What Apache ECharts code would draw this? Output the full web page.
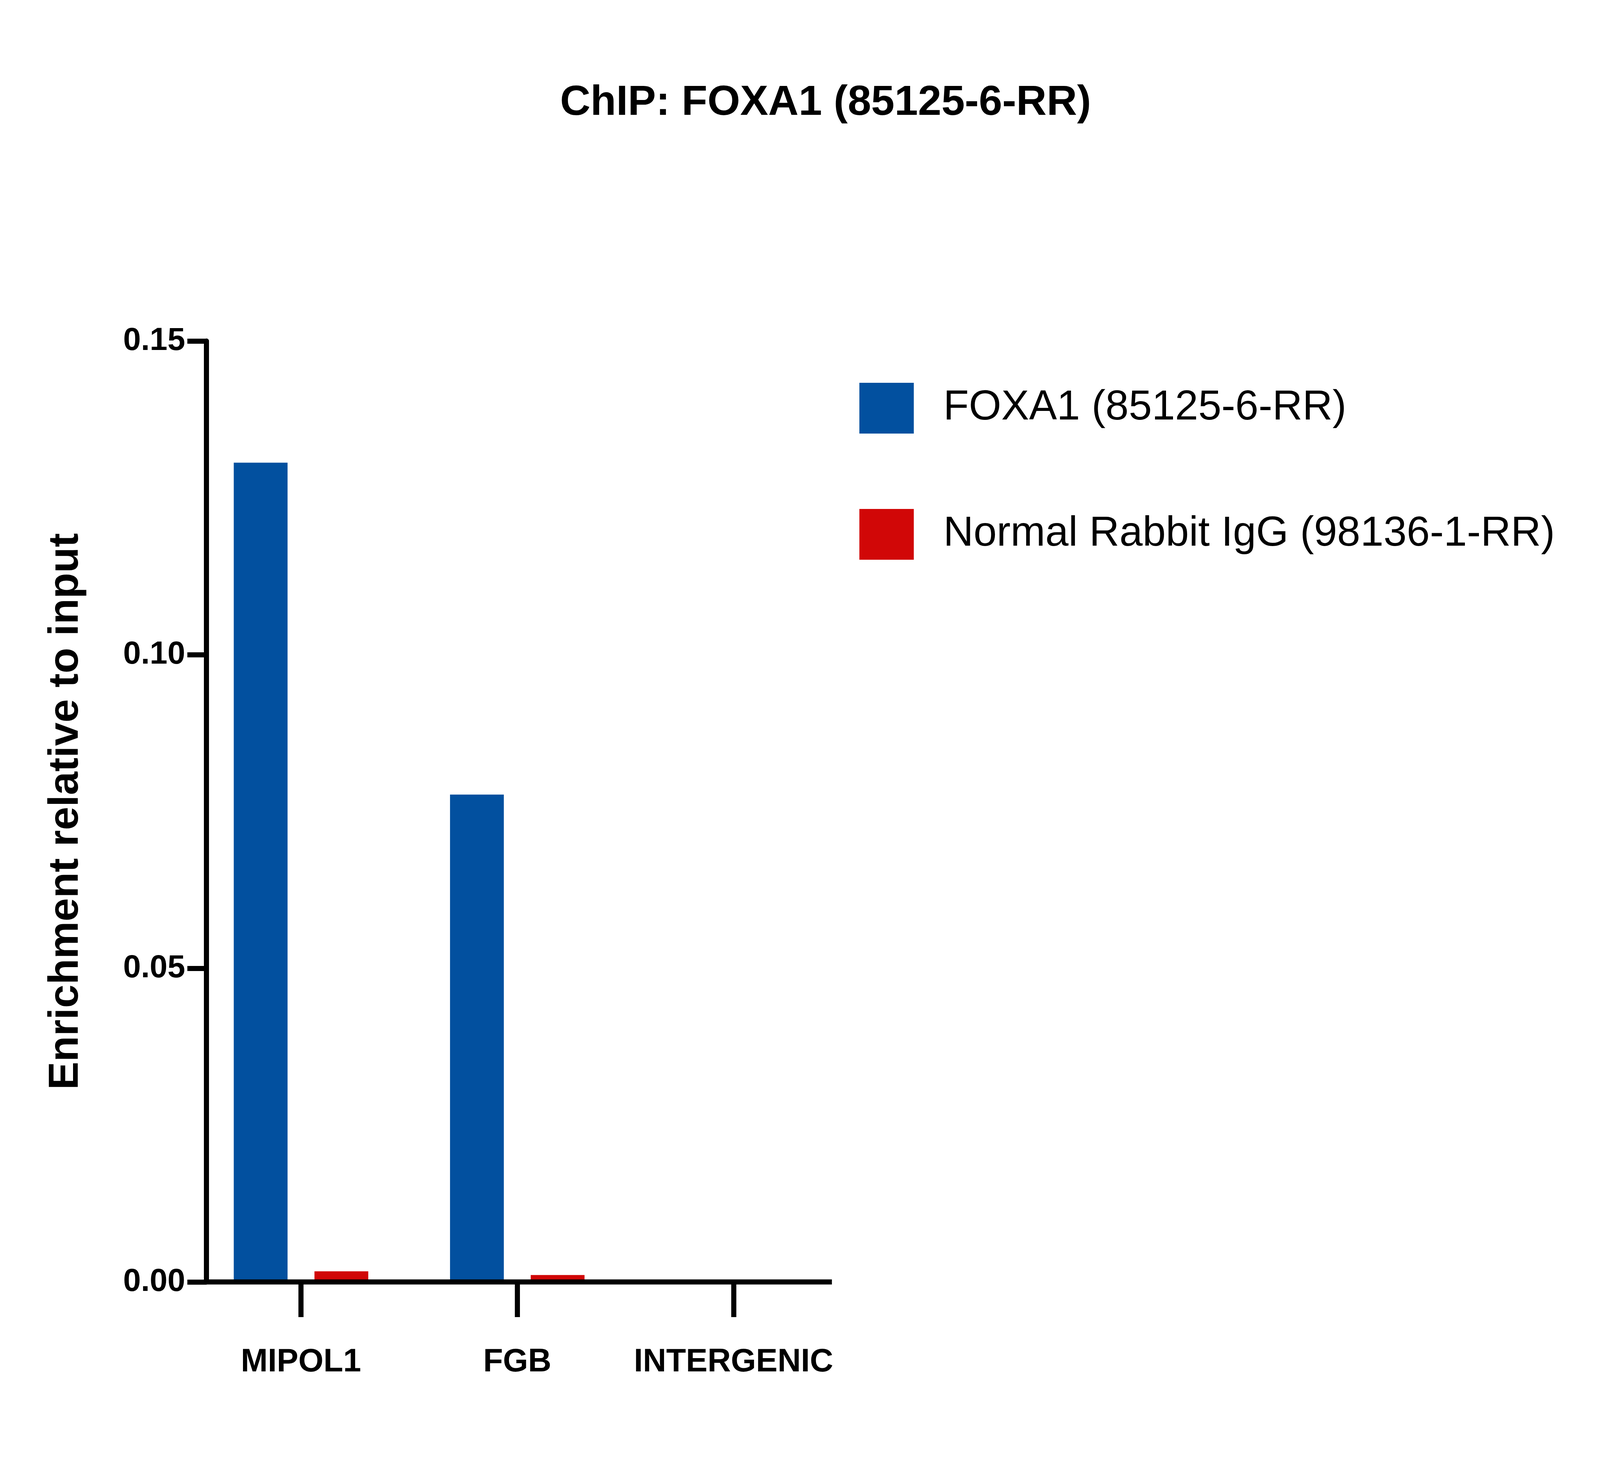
<!DOCTYPE html>
<html><head><meta charset="utf-8">
<script src="https://cdn.jsdelivr.net/npm/echarts@6/dist/echarts.min.js"></script>
<style>html,body{margin:0;padding:0;background:#fff;overflow:hidden}#c{width:100vw;height:100vh}</style>
</head><body><div id="c"></div>
<script>
const categories = ['MIPOL1', 'FGB', 'INTERGENIC'];
const foxa1 = [0.1306, 0.0777, 0.0002];
const igg = [0.0017, 0.0011, 0.0001];
const yTicks = [0, 0.05, 0.10, 0.15];

const chart = echarts.init(document.getElementById('c'));
const W = chart.getWidth(), H = chart.getHeight();
const sx = W / 7524, sy = H / 3766, s = Math.min(sx, sy);
const X = v => v * sx, Y = v => v * sy, S = v => v * s;
const F = 'Liberation Sans, Arial, sans-serif';
chart.setOption({
  animation: false,
  title: { text: 'ChIP: FOXA1 (85125-6-RR)', left: X(3873), top: Y(205), textAlign: 'center',
    textStyle: { fontFamily: F, fontWeight: 'bold', fontSize: S(198), color: '#000' } },
  legend: { left: X(4032), top: Y(975), orient: 'vertical', itemWidth: X(256), itemHeight: Y(130), itemGap: Y(193),
    icon: 'rect', textStyle: { fontFamily: F, fontSize: S(196), color: '#000', padding: [0,0,0,X(130)] } },
  grid: { left: X(907), width: X(3051), top: Y(873), bottom: Y(3766 - 3282) },
  xAxis: { type: 'category', data: categories,
    axisLine: { show: false },
    axisTick: { show: true, alignWithLabel: true, interval: 0, length: Y(90), lineStyle: { width: S(24), color: '#000' } },
    axisLabel: { interval: 0, margin: Y(165), fontFamily: F, fontWeight: 'bold', fontSize: S(152), color: '#000' } },
  yAxis: { type: 'value', min: 0, max: 0.15, interval: 0.05, offset: -X(64),
    name: 'Enrichment relative to input', nameLocation: 'middle', nameGap: X(560),
    nameTextStyle: { fontFamily: F, fontWeight: 'bold', fontSize: S(198), color: '#000' },
    splitLine: { show: false },
    axisLine: { show: true, lineStyle: { width: S(24), color: '#000' } },
    axisTick: { show: true, length: X(90), lineStyle: { width: S(24), color: '#000' } },
    axisLabel: { margin: X(100), fontFamily: F, fontWeight: 'bold', fontSize: S(150), color: '#000',
      formatter: v => yTicks.includes(+v.toFixed(2)) ? v.toFixed(2) : '' } },
  series: [
    { name: 'FOXA1 (85125-6-RR)', type: 'bar', data: foxa1, barWidth: X(253), barGap: '50%', itemStyle: { color: '#02509F' } },
    { name: 'Normal Rabbit IgG (98136-1-RR)', type: 'bar', data: igg, barWidth: X(253), itemStyle: { color: '#D10707' } }
  ]
});
const p0 = chart.convertToPixel({ gridIndex: 0 }, [0, 0]);
chart.setOption({ graphic: [{ type: 'line', shape: { x1: X(959), y1: p0[1], x2: X(3912), y2: p0[1] },
  style: { stroke: '#000', lineWidth: S(24) }, z: 100 }] });
</script></body></html>
